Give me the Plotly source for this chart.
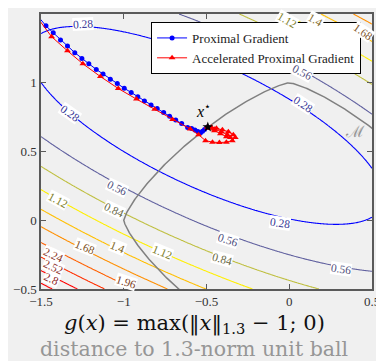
import numpy as np
import plotly.graph_objects as go

# ---- objective landscape (smooth part), parameters ----
F_MIN = 0.05      # value at the valley centre
ALPHA = 0.20      # curvature along the valley
CURV = 0.95       # curvature across the valley
X_C, Y_C = -0.5, 0.69
VALLEY_SLOPE = -0.49
LEVEL_START, LEVEL_END, LEVEL_STEP = 0.28, 2.8, 0.28
NORM_P = 1.3

# ---- iterates ----
pg_x = [-1.60, -1.470, -1.426, -1.382, -1.340, -1.296, -1.253, -1.211, -1.166, -1.125,
        -1.081, -1.039, -0.997, -0.955, -0.915, -0.875, -0.835, -0.798, -0.759, -0.723,
        -0.686, -0.650, -0.614, -0.590, -0.570, -0.552, -0.536, -0.524, -0.512, -0.494]
pg_y = [1.60, 1.414, 1.363, 1.311, 1.268, 1.219, 1.176, 1.138, 1.097, 1.063,
        1.025, 0.994, 0.960, 0.929, 0.898, 0.867, 0.838, 0.812, 0.783, 0.757,
        0.730, 0.704, 0.675, 0.668, 0.656, 0.645, 0.637, 0.648, 0.660, 0.678]

apg_x = [-1.60, -1.436, -1.340, -1.247, -1.141, -1.033, -0.923, -0.813, -0.705, -0.598,
         -0.548, -0.506, -0.464, -0.422, -0.380, -0.344, -0.326, -0.338, -0.368, -0.404,
         -0.440, -0.470, -0.494, -0.452, -0.410, -0.374, -0.356, -0.380, -0.416, -0.452,
         -0.482, -0.494]
apg_y = [1.60, 1.335, 1.232, 1.138, 1.045, 0.958, 0.881, 0.807, 0.732, 0.663,
         0.622, 0.579, 0.568, 0.565, 0.568, 0.579, 0.601, 0.622, 0.644, 0.658,
         0.669, 0.676, 0.678, 0.662, 0.644, 0.622, 0.601, 0.608, 0.630, 0.651,
         0.669, 0.678]

x_star = [-0.492]
y_star = [0.678]

x_ticks = [-1.5, -1, -0.5, 0, 0.5]
x_tick_text = ["\u22121.5", "\u22121", "\u22120.5", "0", "0.5"]
y_ticks = [-0.5, 0, 0.5, 1, 1.5]
y_tick_text = ["\u22120.5", "0", "0.5", "1", "1.5"]

# ---- contour-level labels as placed in the picture ----
label_text = ["0.28", "0.28", "0.28", "0.28", "0.56", "0.56", "0.56", "0.56",
              "0.84", "0.84", "1.12", "1.12", "1.4", "1.68", "1.96", "2.24", "2.52", "2.8",
              "1.12", "1.4", "1.68"]
label_x = [-1.249, -1.326, 0.081, -0.057, -1.039, -0.368, 0.314, 0.075,
           -1.057, -0.404, -1.398, -0.769, -1.039, -1.237, -0.985, -1.425, -1.425, -1.435,
           -0.015, 0.159, 0.448]
label_y = [1.428, 0.781, 0.845, -0.018, 0.234, -0.140, -0.356, 1.075,
           0.076, -0.284, 0.147, -0.234, -0.198, -0.191, -0.450, -0.255, -0.342, -0.428,
           1.455, 1.455, 1.37]
label_angle = [-3, 35, 33, 8, 25, 18, 8, 28,
               25, 15, 28, 22, 22, 22, 18, 25, 25, 25,
               30, 30, 35]
level_values = [0.28, 0.56, 0.84, 1.12, 1.4, 1.68, 1.96, 2.24, 2.52, 2.8]
level_label_colors = ["rgb(55,55,150)", "rgb(80,80,125)", "rgb(105,105,70)", "rgb(125,125,40)",
                      "rgb(130,105,40)", "rgb(130,85,40)", "rgb(130,70,40)", "rgb(140,55,40)",
                      "rgb(140,45,40)", "rgb(140,35,35)"]

# ---- grid ----
gx = np.linspace(-1.5, 0.5, 301)
gy = np.linspace(-0.5, 1.5, 301)
GX, GY = np.meshgrid(gx, gy)
Z = F_MIN + ALPHA * (GX - X_C) ** 2 + CURV * (GY - Y_C - VALLEY_SLOPE * (GX - X_C)) ** 2

# manifold: unit sphere of the 1.3-norm
t = np.linspace(0, 2 * np.pi, 721)
mx = np.sign(np.cos(t)) * np.abs(np.cos(t)) ** (2 / NORM_P)
my = np.sign(np.sin(t)) * np.abs(np.sin(t)) ** (2 / NORM_P)

SERIF = "Liberation Serif"
fig = go.Figure()
fig.add_trace(go.Contour(
    x=gx, y=gy, z=Z, zmin=LEVEL_START, zmax=LEVEL_END,
    contours=dict(start=LEVEL_START, end=LEVEL_END + 1e-6, size=LEVEL_STEP,
                  coloring="lines", showlabels=False),
    colorscale=[[0, "rgb(0,0,255)"], [1 / 3, "rgb(255,255,0)"], [1, "rgb(255,0,0)"]],
    line=dict(width=1.1), showscale=False, showlegend=False, hoverinfo="skip"))
fig.add_trace(go.Scatter(x=mx, y=my, mode="lines", line=dict(color="rgb(128,128,128)", width=1.5),
                         showlegend=False, hoverinfo="skip"))
fig.add_trace(go.Scatter(x=pg_x, y=pg_y, mode="lines+markers", name="Proximal Gradient",
                         line=dict(color="rgb(0,0,255)", width=1),
                         marker=dict(symbol="circle", size=5, color="rgb(0,0,255)")))
fig.add_trace(go.Scatter(x=apg_x, y=apg_y, mode="lines+markers", name="Accelerated Proximal Gradient",
                         line=dict(color="rgb(255,0,0)", width=1),
                         marker=dict(symbol="triangle-up", size=6, color="rgb(255,0,0)")))
fig.add_trace(go.Scatter(x=x_star, y=y_star, mode="markers", showlegend=False,
                         marker=dict(symbol="star", size=8, color="black")))

axis_common = dict(showgrid=False, zeroline=False, showline=True, mirror="ticks",
                   linecolor="rgb(90,90,90)", linewidth=1.5, ticks="inside", ticklen=5,
                   tickcolor="rgb(90,90,90)", tickfont=dict(family=SERIF, size=13, color="#333"))
fig.update_xaxes(range=[-1.5, 0.5], tickvals=x_ticks, ticktext=x_tick_text,
                 ticklabeloverflow="allow", **axis_common)
fig.update_yaxes(range=[-0.5, 1.5], tickvals=y_ticks, ticktext=y_tick_text, **axis_common)

annotations = []
for txt, lx, ly, ang in zip(label_text, label_x, label_y, label_angle):
    col = level_label_colors[level_values.index(float(txt))]
    annotations.append(dict(text=txt, x=lx, y=ly, xref="x", yref="y", showarrow=False,
                            textangle=ang, bgcolor="white", borderpad=0,
                            font=dict(family=SERIF, size=11.5, color=col)))
annotations += [
    dict(text="<i>x</i><sup>\u22c6</sup>", x=-0.518, y=0.80, xref="x", yref="y", showarrow=False,
         font=dict(family=SERIF, size=16, color="black")),
    dict(text="\u2133", x=0.40, y=0.645, xref="x", yref="y", showarrow=False,
         font=dict(family="DejaVu Serif", size=16, color="rgb(150,150,150)")),
    dict(text="<i>g</i>(<i>x</i>) = max(\u2016<i>x</i>\u2016<sub>1.3</sub> \u2212 1; 0)",
         x=0.463, y=-0.127, xref="paper", yref="paper", xanchor="center", yanchor="middle",
         showarrow=False, font=dict(family="DejaVu Serif", size=21, color="#111")),
    dict(text="distance to 1.3-norm unit ball", x=0.463, y=-0.219, xref="paper", yref="paper",
         xanchor="center", yanchor="middle", showarrow=False,
         font=dict(family="DejaVu Serif", size=20.5, color="rgb(150,150,150)")),
]

# the page body has an 8px margin: the figure is sized so the plot lands where the reference has it
fig.update_layout(
    width=376, height=353, margin=dict(l=33, r=8, t=4, b=72),
    paper_bgcolor="#f0f0f0", plot_bgcolor="#f0f0f0",
    font=dict(family=SERIF, color="#222"),
    legend=dict(x=0.967, xanchor="right", y=0.971, yanchor="top", bgcolor="white",
                bordercolor="black", borderwidth=1, font=dict(family=SERIF, size=13, color="#222"),
                tracegroupgap=0),
    annotations=annotations,
)
fig.write_html("out.html")
